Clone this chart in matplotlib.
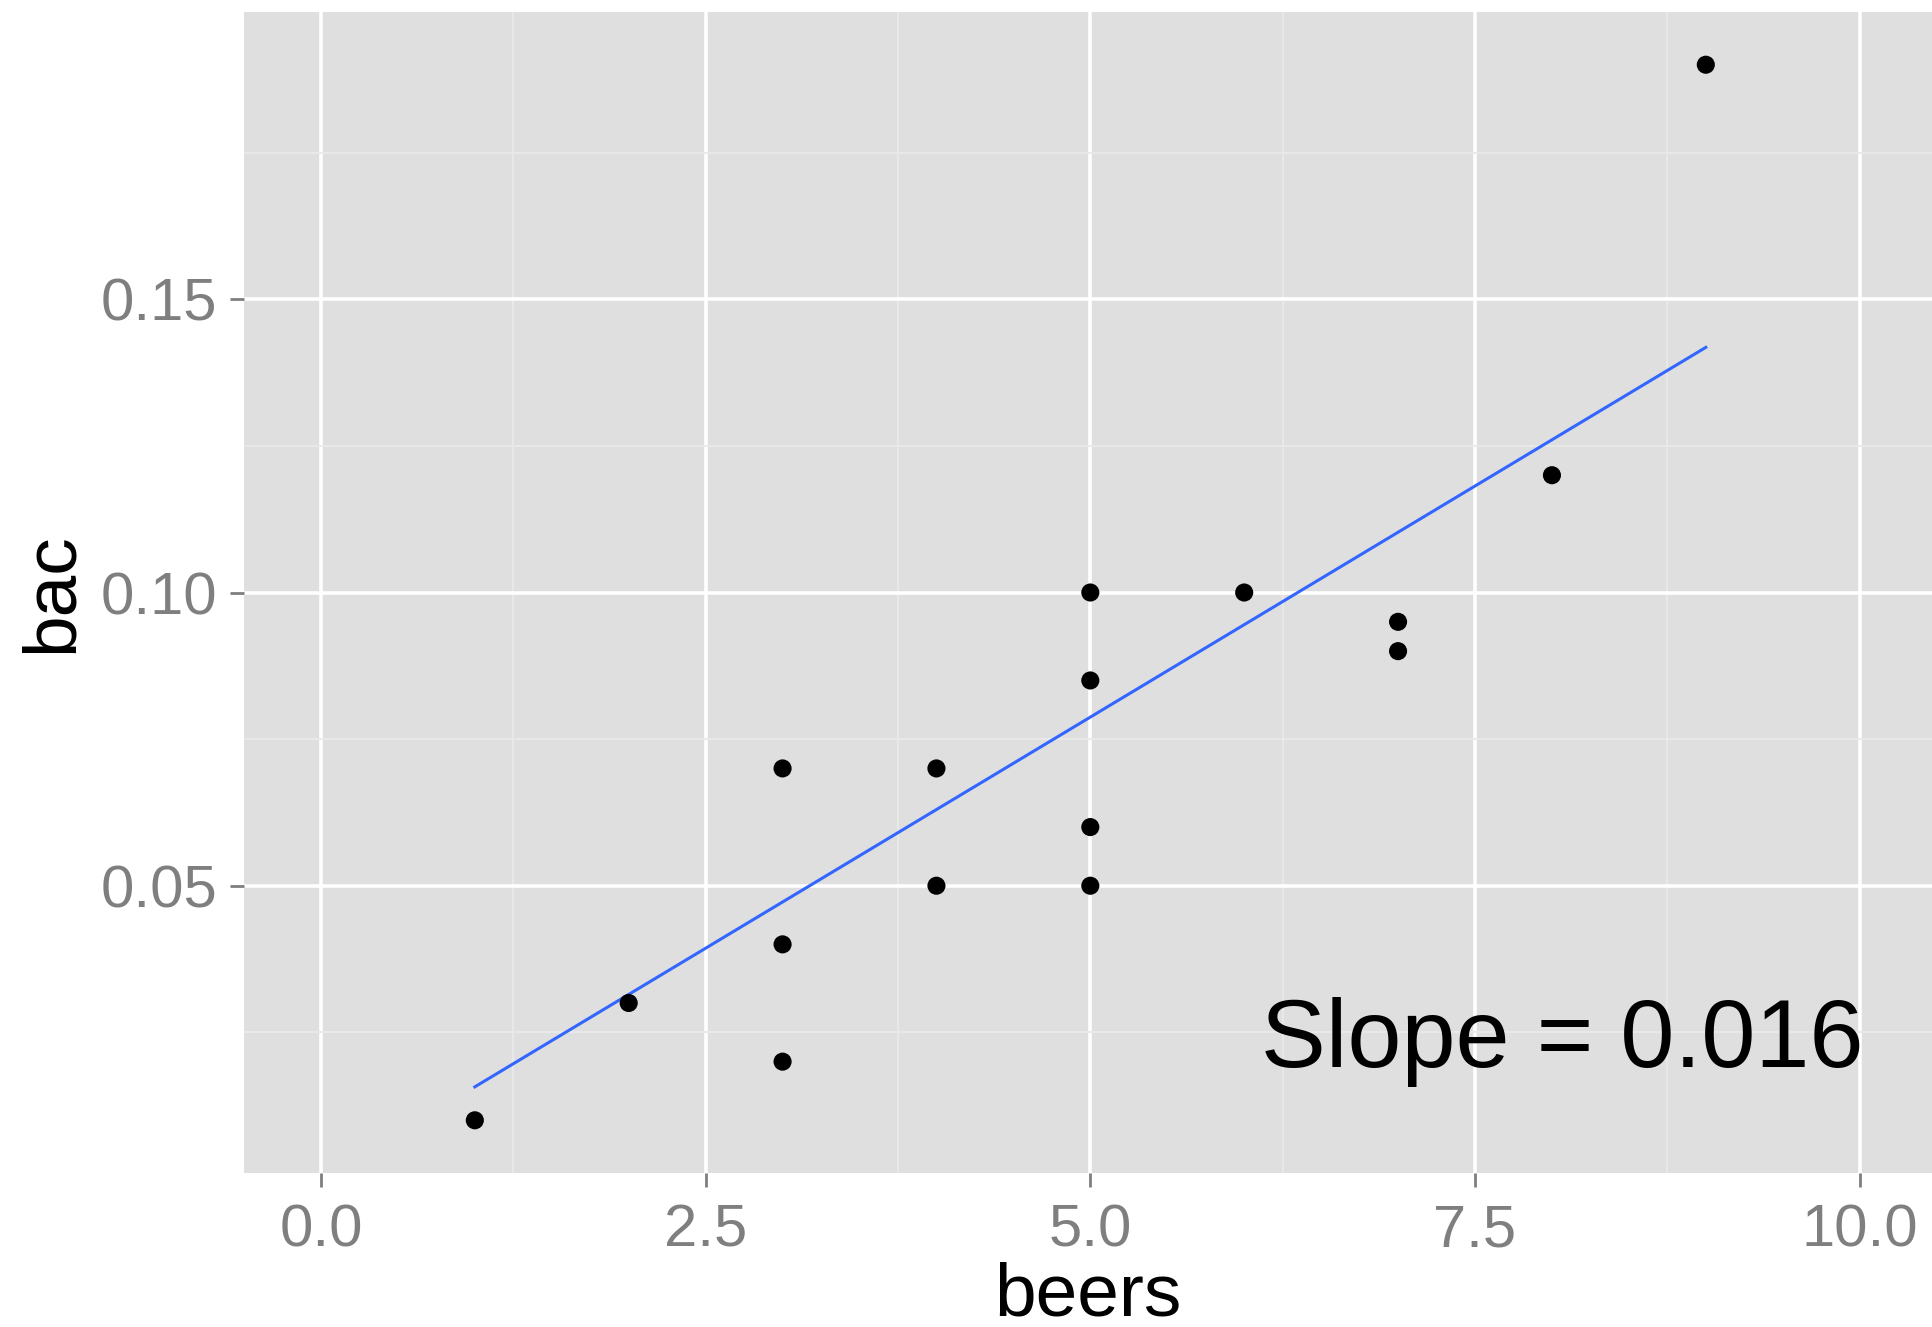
import matplotlib
matplotlib.use("Agg")
import matplotlib.pyplot as plt
from matplotlib.ticker import MultipleLocator

# beers vs blood alcohol content
beers = [5, 2, 9, 8, 3, 7, 3, 5, 3, 5, 4, 6, 5, 7, 1, 4]
bac = [0.10, 0.03, 0.19, 0.12, 0.04, 0.095, 0.07, 0.06, 0.02, 0.05,
       0.07, 0.10, 0.085, 0.09, 0.01, 0.05]

# fitted line as drawn (endpoints)
line_x = [1, 9]
line_y = [0.0157, 0.1418]

x_ticks = [0.0, 2.5, 5.0, 7.5, 10.0]
y_ticks = [0.05, 0.10, 0.15]

plt.rcParams['font.family'] = ['Liberation Sans', 'DejaVu Sans']

fig = plt.figure(figsize=(19.32, 13.27), dpi=100)
ax = fig.add_axes([0.1263, 0.116, 0.8737, 0.875])
ax.set_facecolor('#dfdfdf')

ax.set_xlim(-0.5, 10.47)
ax.set_ylim(0.001, 0.199)

ax.set_xticks(x_ticks)
ax.set_xticklabels(['0.0', '2.5', '5.0', '7.5', '10.0'])
ax.set_yticks(y_ticks)
ax.set_yticklabels(['0.05', '0.10', '0.15'])
ax.xaxis.set_minor_locator(MultipleLocator(1.25))
ax.yaxis.set_minor_locator(MultipleLocator(0.025))

ax.grid(which='major', color='white', linewidth=2.6)
ax.grid(which='minor', color='#e9e9e9', linewidth=1.3)
ax.set_axisbelow(True)

for s in ax.spines.values():
    s.set_visible(False)

ax.tick_params(which='major', length=10, width=2, color='#7f7f7f',
               labelsize=43, labelcolor='#7f7f7f')
ax.tick_params(axis='x', which='major', pad=12)
ax.tick_params(axis='y', which='major', pad=9)
ax.tick_params(which='minor', length=0)

ax.plot(line_x, line_y, color='#3366FF', linewidth=2.2, zorder=2)
ax.scatter(beers, bac, s=170, color='black', edgecolors='none', zorder=3)

ax.text(8.07, 0.0233, 'Slope = 0.016', fontsize=70, ha='center', va='center')

ax.set_xlabel('beers', fontsize=54, labelpad=2)
ax.set_ylabel('bac', fontsize=54, labelpad=10)

fig.savefig('out.png', dpi=100)
